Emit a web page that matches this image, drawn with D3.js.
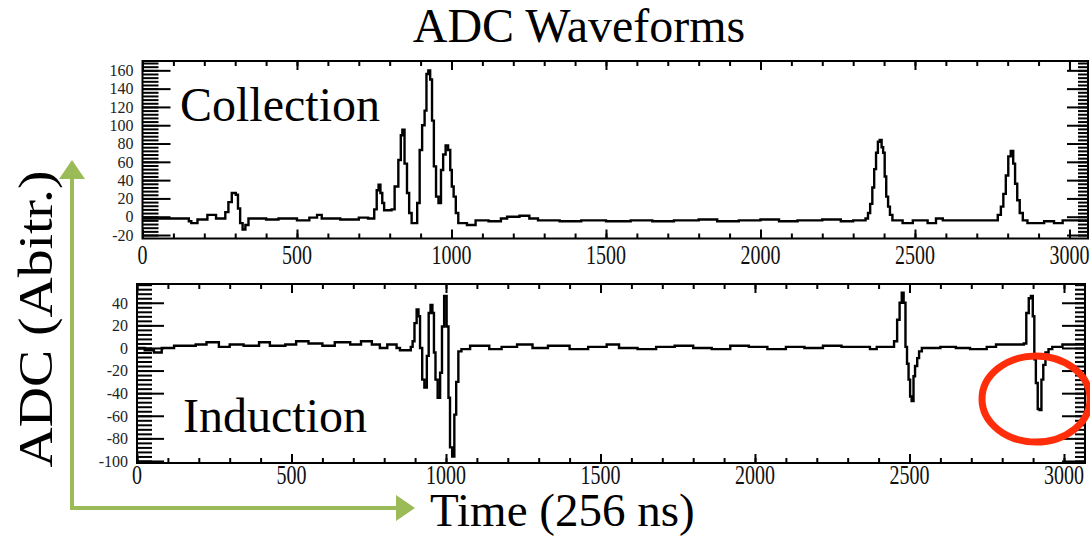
<!DOCTYPE html>
<html>
<head>
<meta charset="utf-8">
<script src="https://cdn.jsdelivr.net/npm/d3@7"></script>
<style>
  body { margin: 0; background: #fff; }
  svg { display: block; font-family: "Liberation Serif", "DejaVu Serif", serif; }
</style>
</head>
<body>
<svg width="1090" height="536"></svg>
<script>
// collection waveform, step points (time in 256 ns ticks, ADC)
const collectionTime = [0, 55, 150, 158, 178, 210, 238, 268, 278, 289, 302, 309, 316, 324, 333, 343, 400, 440, 500, 540, 565, 580, 640, 700, 730,
  750, 758, 764, 770, 776, 782, 806, 816, 828, 836, 841, 848, 856, 863, 871, 889, 897, 905, 913, 919, 925, 931, 937, 943, 950, 958,
  966, 973, 981, 989, 996, 1001, 1007, 1014, 1022, 1050, 1078, 1120, 1160, 1180, 1220, 1252, 1280, 1350, 1420, 1500, 1580, 1650,
  1720, 1800, 1860, 1930, 2000, 2060, 2120, 2200, 2260, 2300, 2340, 2348, 2355, 2362, 2368, 2374, 2380, 2386, 2392, 2397, 2402,
  2407, 2413, 2419, 2427, 2460, 2493, 2541, 2568, 2590, 2768, 2778, 2786, 2794, 2802, 2810, 2818, 2824, 2831, 2839, 2849, 2864,
  2918, 2950, 2978, 3060]
const collectionADC = [-2, -2, -5, -7, -3, 2, -2, 5, 16, 26, 24, 9, -7, -14, -9, -2, -3, -2, -4, -1, 2, -2, -3, -1, -2,
  8, 29, 35, 26, 15, 7, 8, 33, 62, 89, 95, 58, 26, 4, -7, 15, 73, 100, 116, 156, 160, 150, 105, 55, 22, 15,
  51, 68, 78, 73, 51, 33, 22, 4, -7, -9, -4, -5, -2, 0, 1, -2, -4, -5, -4, -5, -4, -5,
  -4, -3, -5, -4, -3, -5, -4, -3, -5, -4, -2, 4, 14, 32, 52, 70, 82, 84, 76, 70, 44,
  22, 11, 2, -4, -7, -4, -7, -2, -4, 2, 11, 25, 45, 66, 72, 58, 36, 18, 4, -4, -7,
  -5, -7, -4, -4]

// induction waveform
const inductionTime = [0, 25, 55, 80, 120, 190, 225, 265, 300, 345, 395, 430, 480, 515, 555, 600, 640, 690, 725, 760, 786, 810, 840,
  851, 886, 892, 898, 905, 911, 916, 923, 930, 938, 944, 950, 956, 961, 966, 973, 981, 987, 994, 1002, 1008, 1013, 1020, 1027,
  1033, 1040, 1050, 1078, 1115, 1140, 1180, 1230, 1280, 1330, 1400, 1460, 1520, 1560, 1620, 1680, 1740, 1800, 1860, 1920, 1980,
  2040, 2100, 2160, 2220, 2280, 2340, 2372, 2394, 2450, 2460, 2468, 2475, 2481, 2487, 2492, 2497, 2502, 2507, 2513, 2518, 2525,
  2531, 2540, 2600, 2650, 2696, 2750, 2780, 2870, 2878, 2886, 2893, 2899, 2904, 2909, 2915, 2921, 2927, 2933, 2940, 2950, 2962,
  2995, 3068]
const inductionADC = [0, -2, -4, 0, 2, 3, 5, 1, 3, 2, 5, 2, 3, 6, 4, 2, 5, 3, 6, 3, 0, 3, 0,
  -2, 1, 6, 22, 34, 28, 0, -28, -35, -7, 31, 38, 31, -4, -28, -44, -22, 19, 46, 19, -44, -88, -96, -59,
  -30, -3, -1, 2, 2, -1, 1, 3, 0, 2, -1, 1, 3, 0, -1, 1, 2, 0, -1, 2, 1,
  -1, 1, 0, 2, 1, 1, -1, 1, 6, 25, 40, 49, 40, 1, -14, -28, -43, -47, -25, -16, -9,
  -3, 0, 1, 0, -1, 1, 3, 4, 31, 44, 46, 28, -10, -31, -54, -55, -28, -15, -4, -1, 1,
  3, 3]

const timeTicks = [0, 500, 1000, 1500, 2000, 2500, 3000]
const collectionTicks = [-20, 0, 20, 40, 60, 80, 100, 120, 140, 160]
const inductionTicks = [-100, -80, -60, -40, -20, 0, 20, 40]

const svg = d3.select('svg')
const green = '#9bbb59'

const drawPanel = p => {
  const x = d3.scaleLinear().domain(p.xDomain).range([p.left, p.right])
  const y = d3.scaleLinear().domain(p.yDomain).range([p.bottom, p.top])
  const g = svg.append('g')

  g.append('rect')
    .attr('x', p.left).attr('y', p.top)
    .attr('width', p.right - p.left).attr('height', p.bottom - p.top)
    .attr('fill', '#fff')

  const minorY = d3.range(Math.ceil(p.yDomain[0] / 4) * 4, p.yDomain[1], 4)
  const minorX = d3.range(0, p.xDomain[1], 100)

  const axes = [
    [d3.axisLeft(y).tickValues(minorY).tickSize(-p.leftMinor), p.left, 0],
    [d3.axisLeft(y).tickValues(p.yTicks).tickSize(-p.leftMajor), p.left, 0],
    [d3.axisRight(y).tickValues(minorY).tickSize(-p.rightMinor), p.right, 0],
    [d3.axisRight(y).tickValues(p.yTicks).tickSize(-p.rightMajor), p.right, 0],
    [d3.axisBottom(x).tickValues(minorX).tickSize(-5), 0, p.bottom],
    [d3.axisBottom(x).tickValues(timeTicks).tickSize(-9), 0, p.bottom],
    [d3.axisTop(x).tickValues(minorX).tickSize(-5), 0, p.top],
    [d3.axisTop(x).tickValues(timeTicks).tickSize(-9), 0, p.top]
  ]
  axes.forEach(([axis, tx, ty]) => {
    const ag = g.append('g')
      .attr('transform', `translate(${tx},${ty})`)
      .call(axis.tickFormat(''))
    ag.select('.domain').remove()
    ag.selectAll('.tick line').attr('stroke', '#000').attr('stroke-width', 2)
  })

  // y tick labels
  g.append('g').selectAll('text')
    .data(p.yTicks)
    .join('text')
    .attr('x', p.left - 9)
    .attr('y', d => y(d))
    .attr('dy', '0.36em')
    .attr('text-anchor', 'end')
    .attr('font-size', 16)
    .attr('fill', '#222')
    .text(d => String(d))

  // x tick labels (tall, narrow like the original)
  g.append('g').selectAll('text')
    .data(timeTicks)
    .join('text')
    .attr('transform', d => `translate(${x(d)},${p.labelBase}) scale(1,1.35)`)
    .attr('text-anchor', 'middle')
    .attr('font-size', 20)
    .attr('fill', '#111')
    .text(d => String(d))

  const clipId = 'clip-' + p.name
  svg.append('clipPath').attr('id', clipId)
    .append('rect')
    .attr('x', p.left).attr('y', p.top)
    .attr('width', p.right - p.left).attr('height', p.bottom - p.top)

  const pts = p.time.map((t, i) => [t, p.adc[i]])
  g.append('path')
    .datum(pts)
    .attr('clip-path', `url(#${clipId})`)
    .attr('fill', 'none')
    .attr('stroke', '#000')
    .attr('stroke-width', 2.4)
    .attr('d', d3.line().x(d => x(d[0])).y(d => y(d[1])).curve(d3.curveStepAfter))

  g.append('rect')
    .attr('x', p.left).attr('y', p.top)
    .attr('width', p.right - p.left).attr('height', p.bottom - p.top)
    .attr('fill', 'none').attr('stroke', '#000').attr('stroke-width', 2)

  g.append('text')
    .attr('x', p.labelX).attr('y', p.labelY)
    .attr('font-size', 48)
    .text(p.label)
}

drawPanel({
  name: 'collection', time: collectionTime, adc: collectionADC, yTicks: collectionTicks,
  xDomain: [0, 3060], yDomain: [-23.8, 170.2],
  left: 142.5, right: 1088, top: 61, bottom: 238.5,
  leftMajor: 28, leftMinor: 16, rightMajor: 21, rightMinor: 10,
  labelBase: 264, label: 'Collection', labelX: 180, labelY: 121
})

drawPanel({
  name: 'induction', time: inductionTime, adc: inductionADC, yTicks: inductionTicks,
  xDomain: [0, 3068], yDomain: [-101.8, 56.6],
  left: 137, right: 1085, top: 284, bottom: 463,
  leftMajor: 27, leftMinor: 15, rightMajor: 23, rightMinor: 10,
  labelBase: 484, label: 'Induction', labelX: 183, labelY: 432
})

// cut-off y axis title of the lower pad
svg.append('clipPath').attr('id', 'clip-ytitle')
  .append('rect').attr('x', 90).attr('y', 280).attr('width', 20).attr('height', 80)
svg.append('text')
  .attr('clip-path', 'url(#clip-ytitle)')
  .attr('transform', 'translate(100,346) rotate(-90)')
  .attr('font-size', 17)
  .attr('fill', '#333')
  .text('q [ADC]')

// title and annotations
svg.append('text')
  .attr('x', 579).attr('y', 42)
  .attr('text-anchor', 'middle')
  .attr('font-size', 48)
  .text('ADC Waveforms')

svg.append('text')
  .attr('x', 430).attr('y', 526)
  .attr('font-size', 47)
  .text('Time (256 ns)')

svg.append('text')
  .attr('transform', 'translate(52,319) rotate(-90) scale(1.16,1)')
  .attr('text-anchor', 'middle')
  .attr('font-size', 48)
  .text('ADC (Abitr.)')

// green axis arrows
svg.append('line')
  .attr('x1', 72).attr('y1', 510).attr('x2', 72).attr('y2', 176)
  .attr('stroke', green).attr('stroke-width', 4)
svg.append('polygon')
  .attr('points', '72,160 59,179 85,179')
  .attr('fill', green)
svg.append('line')
  .attr('x1', 70).attr('y1', 508).attr('x2', 398).attr('y2', 508)
  .attr('stroke', green).attr('stroke-width', 4)
svg.append('polygon')
  .attr('points', '415,508 396,495 396,521')
  .attr('fill', green)

// red highlight
svg.append('ellipse')
  .attr('cx', 1036).attr('cy', 399).attr('rx', 54).attr('ry', 43)
  .attr('fill', 'none')
  .attr('stroke', '#ff2d0a')
  .attr('stroke-width', 7)
</script>
</body>
</html>
